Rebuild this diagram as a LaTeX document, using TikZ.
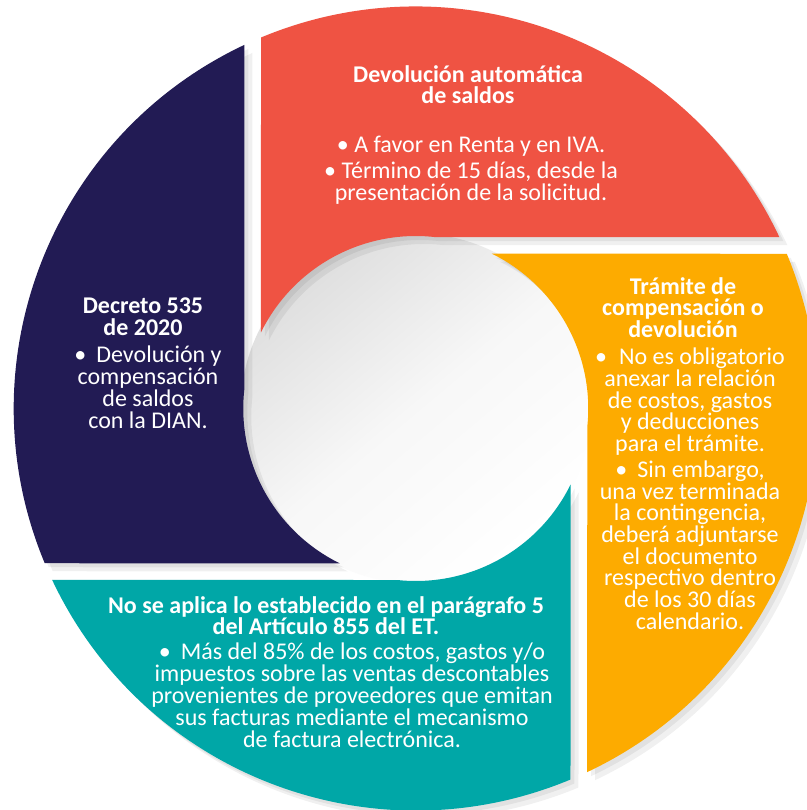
\documentclass[tikz,border=0pt]{standalone}
\usepackage{fontspec}
\setmainfont{Carlito}
\definecolor{cred}{HTML}{EF5343}
\definecolor{corange}{HTML}{FDAB00}
\definecolor{cteal}{HTML}{00A7A7}
\definecolor{cnavy}{HTML}{221B54}
\begin{document}
\begin{tikzpicture}[x=1pt,y=1pt,
  txt/.style={text=white, align=center, inner sep=0pt, font=\fontsize{24}{22}\selectfont},
  ttl/.style={txt, font=\bfseries\fontsize{24}{21.5}\selectfont},
]
\useasboundingbox (0,0) rectangle (806,-810);
\fill[white] (0,0) rectangle (806,-810);
\def\piece{(112.64:402) -- (153.82:172.5) arc[start angle=153.82, end angle=83.84, radius=172.5] -- (25.25:402) arc[start angle=25.25, end angle=112.64, radius=402] -- cycle}
\begin{scope}[shift={(415.75,-408.5)}]
  \shade[top color=black!13, bottom color=white, middle color=black!3, shading angle=40] (0,0) circle[radius=175];
  \foreach \a in {0,-90,180,90} {
    \fill[black, opacity=0.06, shift={(4,-4)}, rotate=\a] \piece;
    \fill[black, opacity=0.06, shift={(8,-8)}, rotate=\a] \piece;
  }
  \fill[cred] \piece;
  \fill[corange, rotate=-90] \piece;
  \fill[cteal, rotate=180] \piece;
  \fill[cnavy, rotate=90] \piece;
\end{scope}
\node[ttl, anchor=north] (t1) at (468,-65) {Devolución automática\\de saldos};
\node[txt, anchor=north] (b1) at (471,-136) {• A favor en Renta y en IVA.\\[4pt]• Término de 15 días, desde la\\presentación de la solicitud.};
\node[ttl, anchor=north] (t2) at (683,-277) {Trámite de\\compensación o\\devolución};
\node[txt, anchor=north, font=\fontsize{24}{21.7}\selectfont] (b2) at (690,-348) {•\hspace{12pt}No es obligatorio\\anexar la relación\\de costos, gastos\\y deducciones\\para el trámite.\\[4pt]•\hspace{10pt}Sin embargo,\\una vez terminada\\la contingencia,\\deberá adjuntarse\\el documento\\respectivo dentro\\de los 30 días\\calendario.};
\node[ttl, anchor=north] (t3) at (143,-298) {Decreto 535\\de 2020};
\node[txt, anchor=north] (b3) at (148,-346) {•\hspace{10pt}Devolución y\\compensación\\de saldos\\con la DIAN.};
\node[ttl, anchor=north] (t4) at (326,-596) {No se aplica lo establecido en el parágrafo 5\\del Artículo 855 del ET.};
\node[txt, anchor=north] (b4) at (352,-643) {•\hspace{10pt}Más del 85\% de los costos, gastos y/o\\impuestos sobre las ventas descontables\\provenientes de proveedores que emitan\\sus facturas mediante el mecanismo\\de factura electrónica.};
\end{tikzpicture}
\end{document}
